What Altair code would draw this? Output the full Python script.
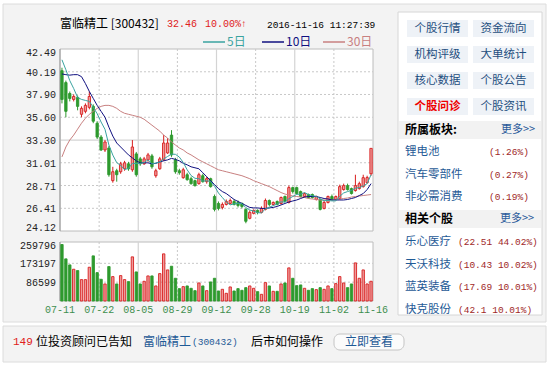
import altair as alt
import pandas as pd

# ---------------- data ----------------
date_labels = ["07-11", "07-22", "08-05", "08-29", "09-12", "09-28", "10-19", "11-02", "11-16"]
price_labels = ["42.49", "40.19", "37.90", "35.60", "33.30", "31.01", "28.71", "26.41", "24.12"]
volume_labels = ["259796", "173197", "86599"]

opens = [40.3, 39.1, 38.0, 37.4, 37.6, 35.9, 36.2, 36.6, 36.7, 35.0,
         33.6, 32.3, 32.5, 29.2, 30.2, 30.1, 30.4, 30.9, 30.3, 31.9,
         31.4, 30.9, 31.3, 31.7, 29.7, 30.4, 31.3, 32.0, 33.8, 31.3,
         30.2, 29.5, 29.8, 29.4, 29.2, 28.9, 29.7, 29.1, 29.4, 27.6,
         26.9, 26.5, 26.8, 26.9, 27.1, 27.0, 26.9, 26.3, 25.4, 25.9,
         26.2, 26.0, 26.3, 27.2, 26.8, 27.1, 26.9, 27.6, 27.0, 28.5,
         28.5, 28.1, 27.6, 27.8, 27.8, 27.3, 27.3, 26.4, 27.0, 27.6,
         27.3, 27.4, 28.3, 28.7, 28.4, 28.2, 28.4, 28.6, 29.0, 29.9]
closes = [37.4, 36.2, 37.5, 37.7, 36.7, 36.5, 36.8, 37.7, 35.2, 33.6,
          32.3, 33.1, 29.8, 30.1, 29.8, 30.9, 31.0, 30.4, 32.6, 29.8,
          30.9, 31.4, 31.8, 30.6, 30.2, 31.4, 33.0, 33.0, 31.8, 30.1,
          30.0, 30.3, 29.3, 28.9, 28.7, 29.8, 29.1, 29.4, 28.6, 26.3,
          26.4, 26.8, 27.1, 27.2, 26.8, 26.7, 26.6, 25.1, 26.0, 26.2,
          26.0, 26.4, 27.2, 26.8, 27.0, 26.8, 27.5, 27.1, 28.5, 28.1,
          27.9, 27.6, 27.9, 27.5, 27.5, 27.6, 26.3, 27.0, 27.6, 27.3,
          27.6, 28.6, 28.7, 28.3, 27.9, 28.7, 28.9, 29.5, 29.51, 32.46]
highs = [40.6, 39.3, 38.2, 37.9, 37.8, 36.7, 37.0, 38.2, 36.9, 35.2,
         33.8, 33.3, 32.7, 30.6, 30.4, 31.1, 31.2, 31.1, 33.3, 32.1,
         31.6, 31.6, 32.0, 31.9, 30.4, 31.6, 33.8, 33.5, 34.3, 31.5,
         30.4, 30.5, 30.0, 29.6, 29.3, 30.0, 29.9, 29.6, 29.5, 27.8,
         27.1, 27.0, 27.3, 27.4, 27.3, 27.2, 27.0, 26.4, 26.2, 26.3,
         26.3, 26.6, 27.4, 27.3, 27.1, 27.2, 27.6, 27.7, 28.7, 28.6,
         28.6, 28.2, 28.0, 27.9, 27.9, 27.7, 27.4, 27.2, 27.7, 27.8,
         27.7, 28.8, 28.9, 28.9, 28.5, 29.8, 29.1, 29.8, 29.7, 32.46]
lows = [37.0, 35.6, 37.2, 37.2, 36.3, 35.6, 36.0, 36.4, 35.0, 33.4,
        32.2, 32.1, 29.6, 29.0, 29.1, 29.9, 30.2, 30.2, 30.1, 29.6,
        30.7, 30.8, 31.1, 30.4, 29.5, 30.3, 31.2, 31.9, 31.6, 29.9,
        29.8, 29.4, 29.2, 28.8, 28.6, 28.8, 29.0, 28.9, 28.5, 26.1,
        26.2, 26.3, 26.7, 26.8, 26.7, 26.5, 26.4, 24.9, 25.3, 25.8,
        25.8, 25.9, 26.2, 26.6, 26.7, 26.7, 26.8, 27.0, 26.9, 27.9,
        27.8, 27.5, 27.5, 27.4, 27.4, 27.2, 26.2, 26.3, 26.9, 27.2,
        27.2, 27.3, 28.2, 28.2, 27.8, 28.1, 28.3, 28.5, 28.9, 29.7]
volumes = [259796, 193700, 166000, 146000, 139900, 98400, 98400, 155200, 207500, 130600,
           99900, 78400, 158300, 112200, 78400, 116800, 98400, 89100, 202900, 133700,
           78400, 90700, 115300, 115300, 69200, 126000, 216700, 142900, 159800, 104500,
           56900, 66100, 69200, 58400, 47600, 83000, 69200, 47600, 87600, 104500,
           46100, 53800, 35400, 64600, 46100, 56900, 49200, 61500, 69200, 58400,
           43000, 30700, 84500, 69200, 44600, 44600, 78400, 83000, 152200, 104500,
           70700, 73800, 58400, 49200, 56900, 52300, 61500, 53800, 69200, 56900,
           79900, 112200, 83000, 61500, 78400, 175200, 104500, 142900, 78400, 90700]
ma5 = [41.4, 40.4, 39.3, 38.5, 37.6, 37.4, 37.3, 37.2, 36.6, 35.96,
       35.12, 34.38, 32.8, 31.78, 31.02, 30.74, 30.32, 30.44, 30.94, 30.94,
       30.94, 31.02, 31.3, 30.9, 30.98, 31.08, 31.4, 31.64, 31.88, 31.86,
       31.58, 31.04, 30.3, 29.72, 29.44, 29.4, 29.16, 29.18, 29.12, 28.64,
       27.96, 27.5, 27.04, 26.76, 26.86, 26.92, 26.88, 26.48, 26.24, 26.12,
       25.98, 25.94, 26.36, 26.52, 26.68, 26.84, 27.06, 27.04, 27.38, 27.6,
       27.82, 27.84, 28.0, 27.8, 27.68, 27.62, 27.36, 27.18, 27.2, 27.16,
       27.16, 27.62, 27.96, 28.1, 28.22, 28.44, 28.5, 28.66, 28.9, 29.8]
ma10 = [39.97, 39.9, 39.85, 39.9, 39.9, 39.7, 39.0, 38.2, 37.5, 36.8,
        36.2, 35.6, 34.6, 33.7, 33.0, 32.6, 32.2, 31.8, 31.5, 31.2,
        31.0, 31.0, 31.0, 30.9, 30.95, 31.1, 31.2, 31.3, 31.45, 31.35,
        31.2, 30.95, 30.8, 30.6, 30.5, 30.4, 30.0, 29.6, 29.2, 28.8,
        28.4, 28.1, 27.9, 27.6, 27.3, 27.1, 26.9, 26.7, 26.5, 26.45,
        26.45, 26.4, 26.4, 26.45, 26.5, 26.6, 26.75, 26.9, 27.05, 27.15,
        27.25, 27.4, 27.55, 27.6, 27.6, 27.6, 27.5, 27.4, 27.35, 27.25,
        27.25, 27.25, 27.25, 27.3, 27.4, 27.5, 27.7, 27.9, 28.3, 28.9]
ma30 = [31.6, 32.6, 33.3, 33.8, 34.4, 35.0, 35.5, 35.9, 36.2, 36.5,
        36.7, 36.8, 36.8, 36.7, 36.5, 36.2, 36.0, 35.9, 35.8, 35.7,
        35.6, 35.4, 35.1, 34.8, 34.5, 34.2, 33.8, 33.5, 33.1, 32.8,
        32.5, 32.3, 32.0, 31.8, 31.55, 31.3, 31.1, 30.9, 30.7, 30.5,
        30.3, 30.2, 30.1, 30.0, 29.9, 29.8, 29.7, 29.55, 29.4, 29.2,
        29.05, 28.9, 28.75, 28.6, 28.4, 28.2, 28.0, 27.85, 27.75, 27.65,
        27.6, 27.55, 27.5, 27.4, 27.35, 27.3, 27.25, 27.25, 27.25, 27.25,
        27.3, 27.35, 27.4, 27.45, 27.55, 27.6, 27.65, 27.7, 27.75, 27.8]

stock_name = "富临精工"
stock_code = "300432"
last_price = "32.46"
last_change = "10.00%↑"
timestamp = "2016-11-16 11:27:39"
ma_names = ["5日", "10日", "30日"]
buttons = [["个股行情", "资金流向"], ["机构评级", "大单统计"], ["核心数据", "个股公告"], ["个股问诊", "个股资讯"]]
sector_names = ["锂电池", "汽车零部件", "非必需消费"]
sector_changes = ["(1.26%)", "(0.27%)", "(0.19%)"]
related_names = ["乐心医疗", "天沃科技", "蓝英装备", "快克股份"]
related_quotes = ["(22.51 44.02%)", "(10.43 10.02%)", "(17.69 10.01%)", "(42.1 10.01%)"]
advisor_count = "149"

# ---------------- styles ----------------
CJK = "Noto Sans CJK SC"
MONO = "Liberation Mono"
UP_STROKE, UP_FILL, DOWN = "#d81e1e", "#ee9a9a", "#2e9a2e"
MA_COLORS = ["#3aa3a0", "#101080", "#c88080"]
GRID = "#c8c8c8"

n = len(closes)
df = pd.DataFrame({"i": list(range(n)), "open": opens, "high": highs, "low": lows,
                   "close": closes, "vol": volumes, "ma5": ma5, "ma10": ma10, "ma30": ma30})
df["dir"] = ["up" if c >= o else "down" for o, c in zip(opens, closes)]
df["zero"] = 0

XS = alt.Scale(domain=[-0.5, n - 0.5], range=[60, 373], nice=False, zero=False)
PY = alt.Scale(domain=[float(price_labels[-1]), float(price_labels[0])], range=[231, 49], nice=False, zero=False)
VY = alt.Scale(domain=[0, int(volume_labels[0])], range=[301, 244.5], nice=False, zero=False)
FILL = alt.Scale(domain=["up", "down"], range=[UP_FILL, DOWN])
STROKE = alt.Scale(domain=["up", "down"], range=[UP_STROKE, DOWN])

one = pd.DataFrame({"a": [0]})


def box(x, y, x2, y2, fill, stroke=None, sw=1, cr=0):
    kw = dict(fill=fill)
    if stroke:
        kw["stroke"] = stroke
        kw["strokeWidth"] = sw
    else:
        kw["strokeWidth"] = 0
    if cr:
        kw["cornerRadius"] = cr
    return alt.Chart(one).mark_rect(**kw).encode(
        x=alt.value(x), x2=alt.value(x2), y=alt.value(y), y2=alt.value(y2))


def hline(x, x2, y, color, sw=1, dash=None):
    kw = dict(color=color, strokeWidth=sw)
    if dash:
        kw["strokeDash"] = dash
    return alt.Chart(one).mark_rule(**kw).encode(x=alt.value(x), x2=alt.value(x2), y=alt.value(y))


def txt(x, y, s, color="#000000", size=12, font=CJK, align="left", weight="normal"):
    return alt.Chart(one).mark_text(text=s, align=align, baseline="middle", font=font,
                                    fontSize=size, color=color, fontWeight=weight).encode(
        x=alt.value(x), y=alt.value(y))


layers = []
# frames
layers.append(box(3, 4, 546, 322, "#f3f3f3", "#dcdcdc"))
layers.append(box(60, 49, 373, 231, "#ffffff", "#bcbcbc"))
layers.append(box(60, 242, 373, 301, "#ffffff", "#bcbcbc"))

# gridlines (vertical)
grid_df = pd.DataFrame({"gx": [10 * k - 0.5 for k in range(1, len(date_labels) - 1)],
                        "solid": [k % 2 == 0 for k in range(1, len(date_labels) - 1)]})
for y0, y1 in [(49, 231), (242, 301)]:
    layers.append(alt.Chart(grid_df).transform_filter("datum.solid").mark_rule(color="#d4d4d4", strokeWidth=1.2).encode(
        x=alt.X("gx:Q", scale=XS, axis=None), y=alt.value(y0), y2=alt.value(y1)))
    layers.append(alt.Chart(grid_df).transform_filter("!datum.solid").mark_rule(color=GRID, strokeWidth=1, strokeDash=[2, 2]).encode(
        x=alt.X("gx:Q", scale=XS, axis=None), y=alt.value(y0), y2=alt.value(y1)))

# gridlines (horizontal)
pt = pd.DataFrame({"v": [float(s) for s in price_labels], "lab": price_labels, "k": list(range(len(price_labels)))})
mid = (len(price_labels) - 1) // 2
layers.append(alt.Chart(pt).transform_filter(f"datum.k > 0 && datum.k < {len(price_labels) - 1} && datum.k != {mid}")
              .mark_rule(color=GRID, strokeDash=[2, 2]).encode(
    y=alt.Y("v:Q", scale=PY, axis=None), x=alt.value(60), x2=alt.value(373)))
layers.append(alt.Chart(pt).transform_filter(f"datum.k == {mid}").mark_rule(color="#d4d4d4", strokeWidth=1.2).encode(
    y=alt.Y("v:Q", scale=PY, axis=None), x=alt.value(60), x2=alt.value(373)))
vt = pd.DataFrame({"v": [int(s) for s in volume_labels], "lab": volume_labels, "k": list(range(len(volume_labels)))})
layers.append(alt.Chart(vt).transform_filter("datum.k > 0").mark_rule(color=GRID, strokeDash=[2, 2]).encode(
    y=alt.Y("v:Q", scale=VY, axis=None), x=alt.value(60), x2=alt.value(373)))

# left axis lines
layers.append(alt.Chart(one).mark_rule(color="#9a9a9a").encode(x=alt.value(60), y=alt.value(49), y2=alt.value(231)))
layers.append(alt.Chart(one).mark_rule(color="#9a9a9a").encode(x=alt.value(60), y=alt.value(242), y2=alt.value(301)))

# axis labels
layers.append(alt.Chart(pt).transform_filter(f"datum.k > 0 && datum.k < {len(price_labels) - 1}").mark_text(
    align="right", baseline="middle", font=MONO, fontSize=10, color="#222222", dy=1).encode(
    y=alt.Y("v:Q", scale=PY, axis=None), x=alt.value(56), text="lab:N"))
layers.append(alt.Chart(pt).transform_filter("datum.k == 0").mark_text(
    align="right", baseline="middle", font=MONO, fontSize=10, color="#222222", dy=4).encode(
    y=alt.Y("v:Q", scale=PY, axis=None), x=alt.value(56), text="lab:N"))
layers.append(alt.Chart(pt).transform_filter(f"datum.k == {len(price_labels) - 1}").mark_text(
    align="right", baseline="middle", font=MONO, fontSize=10, color="#222222", dy=-3).encode(
    y=alt.Y("v:Q", scale=PY, axis=None), x=alt.value(56), text="lab:N"))
layers.append(alt.Chart(vt).mark_text(
    align="right", baseline="middle", font=MONO, fontSize=10, color="#222222", dy=1).encode(
    y=alt.Y("v:Q", scale=VY, axis=None), x=alt.value(56), text="lab:N"))
dl = pd.DataFrame({"gx": [10 * k - 0.5 for k in range(len(date_labels))], "lab": date_labels})
layers.append(alt.Chart(dl).mark_text(align="center", baseline="middle", font=MONO, fontSize=10, color="#3f8f4f").encode(
    x=alt.X("gx:Q", scale=XS, axis=None), y=alt.value(310), text="lab:N"))

# volume bars
layers.append(alt.Chart(df).transform_calculate(xl="datum.i - 0.3", xr="datum.i + 0.3").mark_rect(strokeWidth=0.9).encode(
    x=alt.X("xl:Q", scale=XS, axis=None), x2="xr:Q",
    y=alt.Y("vol:Q", scale=VY, axis=None), y2="zero:Q",
    fill=alt.Fill("dir:N", scale=FILL, legend=None),
    stroke=alt.Stroke("dir:N", scale=STROKE, legend=None)))

# candle wicks and bodies
layers.append(alt.Chart(df).mark_rule(strokeWidth=1).encode(
    x=alt.X("i:Q", scale=XS, axis=None), y=alt.Y("low:Q", scale=PY, axis=None), y2="high:Q",
    color=alt.Color("dir:N", scale=STROKE, legend=None)))
layers.append(alt.Chart(df).transform_calculate(xl="datum.i - 0.3", xr="datum.i + 0.3").mark_rect(strokeWidth=0.9).encode(
    x=alt.X("xl:Q", scale=XS, axis=None), x2="xr:Q",
    y=alt.Y("open:Q", scale=PY, axis=None), y2="close:Q",
    fill=alt.Fill("dir:N", scale=FILL, legend=None),
    stroke=alt.Stroke("dir:N", scale=STROKE, legend=None)))

# moving averages
for col, c in zip(["ma30", "ma10", "ma5"], [MA_COLORS[2], MA_COLORS[1], MA_COLORS[0]]):
    layers.append(alt.Chart(df).mark_line(color=c, strokeWidth=1).encode(
        x=alt.X("i:Q", scale=XS, axis=None), y=alt.Y(f"{col}:Q", scale=PY, axis=None)))

# header
layers.append(txt(60, 24, f"{stock_name} [{stock_code}]", size=12))
layers.append(txt(167, 24, last_price, color="#e02020", size=10, font=MONO))
layers.append(txt(205, 24, last_change, color="#e02020", size=10, font=MONO))
layers.append(txt(267, 25, timestamp, size=9.5, font=MONO))
for (lx, name, c) in zip([203, 262, 323], ma_names, MA_COLORS):
    layers.append(hline(lx, lx + 22, 42, c, sw=1.5))
    layers.append(txt(lx + 24, 42, name, color=c, size=12))

# right panel
layers.append(box(398, 12, 542, 315, "#ffffff", "#d6d6d6"))
for r, row in enumerate(buttons):
    for c, label in enumerate(row):
        bx = 407 + 66 * c
        by = 20 + 26 * r
        layers.append(box(bx, by, bx + 61, by + 17, "#eef2f7"))
        red = (r == 3 and c == 0)
        layers.append(txt(bx + 30.5, by + 8.5, label, color="#ee0000" if red else "#1f4f80",
                          size=11.5, align="center", weight="bold" if red else "normal"))

sec_y = 130
layers.append(box(399, sec_y - 9, 541, sec_y + 9, "#f2f2f2"))
layers.append(txt(405, sec_y, "所属板块:", size=12, weight="bold"))
layers.append(txt(501, sec_y, "更多>>", color="#2a5a9a", size=11))
for k, (nm, ch) in enumerate(zip(sector_names, sector_changes)):
    yy = 152 + 22.5 * k
    layers.append(txt(405, yy, nm, color="#1f5a96", size=11.5))
    layers.append(txt(489, yy, ch, color="#a02828", size=9.5, font=MONO))

rel_y = 219
layers.append(box(399, rel_y - 9, 541, rel_y + 9, "#f2f2f2"))
layers.append(txt(405, rel_y, "相关个股", size=12, weight="bold"))
layers.append(txt(500, rel_y, "更多>>", color="#2a5a9a", size=11))
for k, (nm, q) in enumerate(zip(related_names, related_quotes)):
    yy = 242 + 22.5 * k
    layers.append(txt(405, yy, nm, color="#1f5a96", size=11.5))
    layers.append(txt(458, yy, q, color="#a02828", size=9.5, font=MONO))

# bottom bar
layers.append(box(3, 326, 546, 362, "#f3f3f3", "#dcdcdc"))
layers.append(txt(13, 342, advisor_count, color="#e02020", size=11, font=MONO))
layers.append(txt(36, 342, "位投资顾问已告知", size=12))
layers.append(txt(143, 342, f"{stock_name}", color="#1f5a96", size=12))
layers.append(txt(192, 342, f"({stock_code})", color="#1f5a96", size=9.5, font=MONO))
layers.append(txt(251, 342, "后市如何操作", size=12))
layers.append(box(334, 334, 404, 350, "#fbfbfb", "#c4c4c4", cr=6))
layers.append(txt(369, 342, "立即查看", color="#1f5a96", size=12, align="center"))

chart = alt.layer(*layers).resolve_scale(
    x="independent", y="independent", fill="independent", stroke="independent", color="independent"
).properties(
    width=550, height=368, padding=0, autosize=alt.AutoSizeParams(type="none"), background="#ffffff"
).configure_view(stroke=None)

chart.save("out.html", embed_options={"renderer": "svg", "actions": False})
